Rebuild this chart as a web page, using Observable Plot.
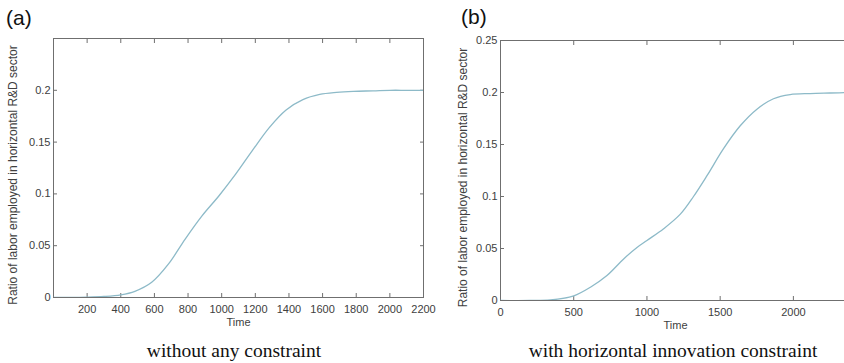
<!DOCTYPE html>
<html>
<head>
<meta charset="utf-8">
<script src="https://cdn.jsdelivr.net/npm/d3@7"></script>
<script src="https://cdn.jsdelivr.net/npm/@observablehq/plot@0.6"></script>
<style>
  html, body { margin: 0; padding: 0; background: #fff; overflow: hidden; }
  #page { position: relative; width: 844px; height: 363px; overflow: hidden; background: #fff; }
  .panel { position: absolute; top: 0; width: 440px; height: 330px; }
  .panel svg { overflow: visible; max-width: none; }
  .tag { position: absolute; font-family: "Liberation Sans", Arial, sans-serif; font-size: 21px; line-height: 21px; color: #111; }
  .caption { position: absolute; font-family: "Liberation Serif", "Times New Roman", serif; font-size: 19.5px; line-height: 19px; color: #111; white-space: nowrap; transform: translateX(-50%); }
</style>
</head>
<body>
<div id="page">
  <div class="panel" id="panelA" style="left:0px"></div>
  <div class="panel" id="panelB" style="left:420px"></div>
  <div class="tag" style="left:6px;top:7px">(a)</div>
  <div class="tag" style="left:461px;top:6px">(b)</div>
  <div class="caption" style="left:234px;top:341px">without any constraint</div>
  <div class="caption" style="left:673px;top:341px">with horizontal innovation constraint</div>
</div>
<script>
// (a) simulation without any constraint
const timeA  = [0, 100, 200, 300, 400, 484, 584, 684, 783, 883, 983, 1083, 1183, 1283, 1383, 1483, 1583, 1683, 1783, 1900, 2000, 2100, 2200];
const ratioA = [0, 0, 0.0003, 0.001, 0.0026, 0.006, 0.0147, 0.0324, 0.0564, 0.0788, 0.098, 0.119, 0.142, 0.164, 0.181, 0.191, 0.196, 0.198, 0.199, 0.1995, 0.2, 0.2, 0.2];

// (b) simulation with the horizontal innovation constraint
const timeB  = [0, 200, 341, 500, 614, 727, 841, 932, 1000, 1114, 1228, 1318, 1410, 1523, 1637, 1751, 1864, 1978, 2114, 2250, 2400];
const ratioB = [0, 0, 0.0005, 0.0045, 0.0128, 0.024, 0.040, 0.051, 0.0577, 0.069, 0.083, 0.100, 0.120, 0.146, 0.168, 0.184, 0.194, 0.198, 0.199, 0.1995, 0.2];

const xTicksA = [200, 400, 600, 800, 1000, 1200, 1400, 1600, 1800, 2000, 2200];
const xTicksB = [0, 500, 1000, 1500, 2000];
const yTicksA = [0, 0.05, 0.1, 0.15, 0.2];
const yTicksB = [0, 0.05, 0.1, 0.15, 0.2, 0.25];

const xLabel = "Time";
const yLabel = "Ratio of labor employed in horizontal R&D sector";

const lineColor = "#8dbac8";
const axisColor = "#6f6f6f";
const textColor = "#404040";
const fmt = d => String(d);

function drawPanel({time, ratio, xDomain, xTicks, yTicks, width, height, margin, yLabelDx}) {
  const rows = time.map((t, i) => ({t, v: ratio[i]}));
  return Plot.plot({
    width, height,
    marginLeft: margin.left, marginRight: margin.right,
    marginTop: margin.top, marginBottom: margin.bottom,
    style: {fontFamily: "'Liberation Sans', Arial, sans-serif", fontSize: "11px", background: "transparent"},
    x: {domain: xDomain},
    y: {domain: [0, 0.25]},
    marks: [
      Plot.frame({stroke: axisColor, strokeWidth: 1}),
      // inward ticks on all four sides of the box
      Plot.axisX({ticks: xTicks, anchor: "bottom", tickSize: -4, tickPadding: 12, tickFormat: fmt,
                  stroke: axisColor, fill: textColor, label: null}),
      Plot.axisX({ticks: xTicks, anchor: "top", tickSize: -4, tickFormat: () => "",
                  stroke: axisColor, label: null}),
      Plot.axisY({ticks: yTicks, anchor: "left", tickSize: -4, tickPadding: 7, tickFormat: fmt,
                  stroke: axisColor, fill: textColor, label: null}),
      Plot.axisY({ticks: yTicks, anchor: "right", tickSize: -4, tickFormat: () => "",
                  stroke: axisColor, label: null}),
      Plot.line(rows, {x: "t", y: "v", stroke: lineColor, strokeWidth: 1.3, curve: "catmull-rom", clip: true}),
      Plot.text([xLabel], {frameAnchor: "bottom", lineAnchor: "top", dy: 21, fill: textColor, fontSize: 11}),
      Plot.text([yLabel], {frameAnchor: "left", rotate: -90, textAnchor: "middle", lineAnchor: "top",
                           dx: yLabelDx, dy: 7, fill: textColor, fontSize: 12})
    ]
  });
}

document.getElementById("panelA").append(drawPanel({
  time: timeA, ratio: ratioA, xDomain: [0, 2200], xTicks: xTicksA, yTicks: yTicksA,
  width: 440, height: 330, margin: {left: 53, right: 17, top: 38, bottom: 33}, yLabelDx: -45
}));

document.getElementById("panelB").append(drawPanel({
  time: timeB, ratio: ratioB, xDomain: [0, 2390], xTicks: xTicksB, yTicks: yTicksB,
  width: 440, height: 330, margin: {left: 80, right: 10, top: 40, bottom: 30}, yLabelDx: -42
}));
</script>
</body>
</html>
